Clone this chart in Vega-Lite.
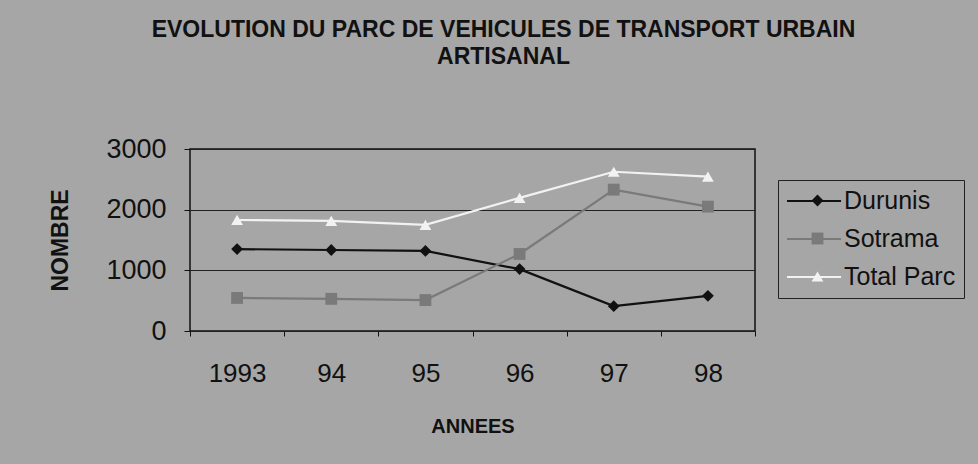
{
  "$schema": "https://vega.github.io/schema/vega-lite/v6.json",
  "width": 565,
  "height": 182,
  "autosize": {"type": "none"},
  "padding": {"left": 190, "top": 149, "right": 223, "bottom": 133},
  "background": "#a6a6a6",
  "title": {
    "text": ["EVOLUTION DU PARC DE VEHICULES DE TRANSPORT URBAIN", "ARTISANAL"],
    "font": "Liberation Sans",
    "fontSize": 23,
    "fontWeight": "bold",
    "color": "#111111",
    "anchor": "middle",
    "frame": "group",
    "dx": 31,
    "offset": 66,
    "lineHeight": 27
  },
  "config": {
    "font": "Liberation Sans",
    "view": {"stroke": "#111111", "strokeWidth": 1.5, "fill": "#a6a6a6"}
  },
  "data": {
    "values": [
      {"annee": "1993", "serie": "Durunis", "nombre": 1350},
      {"annee": "94", "serie": "Durunis", "nombre": 1335},
      {"annee": "95", "serie": "Durunis", "nombre": 1320},
      {"annee": "96", "serie": "Durunis", "nombre": 1020},
      {"annee": "97", "serie": "Durunis", "nombre": 410},
      {"annee": "98", "serie": "Durunis", "nombre": 580},
      {"annee": "1993", "serie": "Sotrama", "nombre": 545},
      {"annee": "94", "serie": "Sotrama", "nombre": 530},
      {"annee": "95", "serie": "Sotrama", "nombre": 510},
      {"annee": "96", "serie": "Sotrama", "nombre": 1270},
      {"annee": "97", "serie": "Sotrama", "nombre": 2330},
      {"annee": "98", "serie": "Sotrama", "nombre": 2050},
      {"annee": "1993", "serie": "Total Parc", "nombre": 1830},
      {"annee": "94", "serie": "Total Parc", "nombre": 1815},
      {"annee": "95", "serie": "Total Parc", "nombre": 1750},
      {"annee": "96", "serie": "Total Parc", "nombre": 2195},
      {"annee": "97", "serie": "Total Parc", "nombre": 2625},
      {"annee": "98", "serie": "Total Parc", "nombre": 2545}
    ]
  },
  "encoding": {
    "x": {
      "field": "annee",
      "type": "ordinal",
      "sort": null,
      "scale": {"type": "band", "paddingInner": 0, "paddingOuter": 0},
      "axis": {
        "title": "ANNEES",
        "labelAngle": 0,
        "labelFontSize": 26,
        "labelColor": "#111111",
        "labelPadding": 24,
        "tickSize": 5,
        "tickBand": "extent",
        "tickColor": "#111111",
        "domain": false,
        "titleFontSize": 20,
        "titleFontWeight": "bold",
        "titleColor": "#111111",
        "titlePadding": 30
      }
    },
    "y": {
      "field": "nombre",
      "type": "quantitative",
      "scale": {"domain": [0, 3000]},
      "axis": {
        "values": [0, 1000, 2000, 3000],
        "format": "d",
        "title": "NOMBRE",
        "titleFontSize": 23,
        "titleFontWeight": "bold",
        "titleColor": "#111111",
        "titlePadding": 33,
        "labelFontSize": 27,
        "labelColor": "#111111",
        "labelPadding": 18,
        "tickSize": 6,
        "tickColor": "#111111",
        "domain": false,
        "grid": true,
        "gridColor": "#222222",
        "gridWidth": 1
      }
    }
  },
  "layer": [
    {
      "mark": {"type": "line", "strokeWidth": 2.2},
      "encoding": {
        "stroke": {
          "field": "serie",
          "type": "nominal",
          "scale": {"domain": ["Durunis", "Sotrama", "Total Parc"], "range": ["#111111", "#7a7a7a", "#f2f2f2"]},
          "legend": {
            "orient": "none",
            "legendX": 595.5,
            "legendY": 23.5,
            "title": null,
            "padding": 0,
            "symbolType": "stroke",
            "symbolSize": 2916,
            "symbolStrokeWidth": 2.2,
            "labelExpr": "''",
            "rowPadding": 4,
            "zindex": 0
          }
        }
      }
    },
    {
      "mark": {"type": "point", "filled": true, "opacity": 1, "size": 140},
      "encoding": {
        "shape": {
          "field": "serie",
          "type": "nominal",
          "scale": {"range": ["diamond", "square", "triangle-up"]},
          "legend": {
            "orient": "none",
            "legendX": 588,
            "legendY": 31,
            "title": null,
            "padding": 8,
            "symbolSize": 140,
            "symbolStrokeWidth": 0,
            "symbolOffset": 19,
            "labelOffset": 14,
            "labelFontSize": 25,
            "labelColor": "#111111",
            "rowPadding": 12,
            "strokeColor": "#222222",
            "zindex": 1
          }
        },
        "fill": {
          "field": "serie",
          "type": "nominal",
          "scale": {"range": ["#111111", "#7a7a7a", "#f2f2f2"]},
          "legend": {
            "orient": "none",
            "legendX": 588,
            "legendY": 31,
            "title": null,
            "padding": 8,
            "symbolSize": 140,
            "symbolStrokeWidth": 0,
            "symbolOffset": 19,
            "labelOffset": 14,
            "labelFontSize": 25,
            "labelColor": "#111111",
            "rowPadding": 12,
            "strokeColor": "#222222",
            "zindex": 1
          }
        }
      }
    }
  ]
}
